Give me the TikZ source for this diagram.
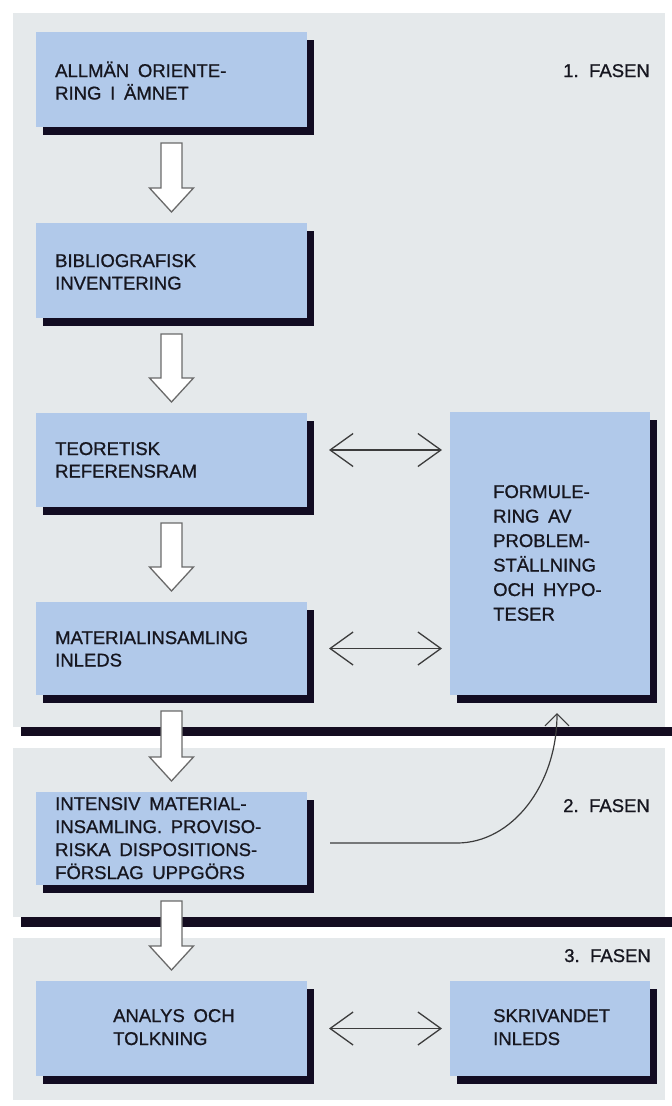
\documentclass[tikz,border=0pt]{standalone}
\usepackage{fontspec}
\setmainfont{Liberation Sans}[WordSpace=1.7,FakeBold=0.9]
\usetikzlibrary{arrows.meta,calc,shadows}
\definecolor{panelc}{HTML}{E5E9EB}
\definecolor{boxc}{HTML}{B1C9EA}
\definecolor{shadc}{HTML}{120C22}
\definecolor{linec}{HTML}{140C20}
\definecolor{arrowc}{HTML}{6A6A6A}
\definecolor{dblc}{HTML}{3C3C3C}
\definecolor{textc}{HTML}{16161F}
\newcommand\mlines[1]{\vtop{\halign{##\hfil\cr#1\crcr}}}
\newcommand\blockarrow[2]{%
  \filldraw[white,draw=arrowc,line width=1.3pt,line join=miter]
    let \p1=($(#1.south)+(0,16)$), \p2=($(#2.north)+(0,-11)$) in
    (\x1-10.5pt,\y1) -- (\x1+10.5pt,\y1) -- (\x1+10.5pt,\y2+24pt) -- (\x1+22pt,\y2+24pt)
    -- (\x1,\y2) -- (\x1-22pt,\y2+24pt) -- (\x1-10.5pt,\y2+24pt) -- cycle;}
\begin{document}
\begin{tikzpicture}[x=1pt,y=-1pt,
  box/.style={fill=boxc, draw=none, anchor=north west, inner sep=0pt, outer sep=0pt,
    drop shadow={shadow xshift=7pt, shadow yshift=-8pt, fill=shadc, opacity=1}},
  lab/.style={anchor=base west, inner sep=0pt, text=textc, font=\fontsize{18.5}{22.5}\selectfont},
  phase/.style={anchor=base east, inner sep=0pt, text=textc, font=\fontsize{18.5}{22.5}\selectfont},
  dbl/.style={draw=dblc, line width=1.3pt, <->, >={Straight Barb[length=23pt,width=33pt]}},
  ]
% canvas and phase panels
\fill[white] (0,0) rectangle (672,1106);
\fill[panelc] (13,13) rectangle (665,727);
\fill[panelc] (13,748) rectangle (665,917);
\fill[panelc] (13,938) rectangle (665,1100);
\fill[linec] (21,727) rectangle (672,736);
\fill[linec] (21,917) rectangle (672,927);
% boxes
\node[box, minimum width=271pt, minimum height=95pt] (b1) at (36,32) {};
\node[box, minimum width=271pt, minimum height=95pt] (b2) at (36,223) {};
\node[box, minimum width=271pt, minimum height=94pt] (b3) at (36,413) {};
\node[box, minimum width=271pt, minimum height=93pt] (b4) at (36,602) {};
\node[box, minimum width=271pt, minimum height=93pt] (b5) at (36,792) {};
\node[box, minimum width=271pt, minimum height=95pt] (b6) at (36,981) {};
\node[box, minimum width=200pt, minimum height=283pt] (f) at (450,412) {};
\node[box, minimum width=200pt, minimum height=95pt] (s) at (450,981) {};
% hollow block arrows
\blockarrow{b1}{b2}
\blockarrow{b2}{b3}
\blockarrow{b3}{b4}
\blockarrow{b4}{b5}
\blockarrow{b5}{b6}
% double arrows
\draw[dbl] ($(b3.east)+(22,-10)$) -- ($(b3.east -| f.west)+(-8,-10)$);
\draw[dbl] ($(b4.east)+(22,0)$) -- ($(b4.east -| f.west)+(-8,0)$);
\draw[dbl] ($(b6.east)+(22,0)$) -- ($(s.west)+(-8,0)$);
% curved arrow from phase 2 box up to the formulation box
\coordinate (cs) at ($(b5.east)+(23,4.5)$);
\coordinate (ce) at ($(f.south)+(7,18)$);
\draw[draw=dblc, line width=1.2pt, -{Straight Barb[length=12pt,width=24pt]}]
  (cs) -- ++(127,0) .. controls +(55,0) and +(0,72) .. (ce);
% texts
\node[lab] (t1) at (55,77) {\mlines{ALLMÄN ORIENTE-\cr RING I ÄMNET}};
\node[lab] (t2) at (55,267) {\mlines{BIBLIOGRAFISK\cr INVENTERING}};
\node[lab] (t3) at (55,455) {\mlines{TEORETISK\cr REFERENSRAM}};
\node[lab] (t4) at (55,644) {\mlines{MATERIALINSAMLING\cr INLEDS}};
\node[lab, font=\fontsize{18.5}{23}\selectfont] (t5) at (55,810) {\mlines{INTENSIV MATERIAL-\cr INSAMLING. PROVISO-\cr RISKA DISPOSITIONS-\cr FÖRSLAG UPPGÖRS}};
\node[lab, font=\fontsize{18.5}{23}\selectfont] (t6) at (113,1022) {\mlines{ANALYS OCH\cr TOLKNING}};
\node[lab, font=\fontsize{18.5}{24.5}\selectfont] (tf) at (493,498) {\mlines{FORMULE-\cr RING AV\cr PROBLEM-\cr STÄLLNING\cr OCH HYPO-\cr TESER}};
\node[lab, font=\fontsize{18.5}{23}\selectfont] (ts) at (493,1022) {\mlines{SKRIVANDET\cr INLEDS}};
\node[phase] (p1) at (650,77) {1. FASEN};
\node[phase] (p2) at (650,812) {2. FASEN};
\node[phase] (p3) at (651,962) {3. FASEN};
\end{tikzpicture}
\end{document}
